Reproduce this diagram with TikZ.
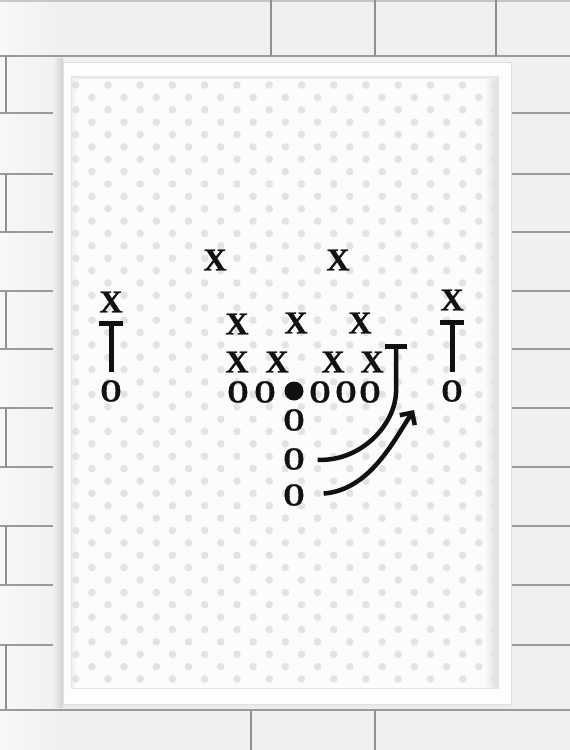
\documentclass[tikz,border=0pt]{standalone}
\usepackage{fontspec}
\newfontfamily\playfont[BoldFeatures={FakeBold=1.2}]{Liberation Serif}
\newfontfamily\ofont[BoldFeatures={FakeBold=1.2,FakeStretch=0.84}]{Liberation Serif}
\usetikzlibrary{arrows.meta}
\definecolor{wallcol}{HTML}{F0F0F0}
\definecolor{mortarcol}{HTML}{9A9E92}
\definecolor{jointcol}{HTML}{8E9288}
\definecolor{framecol}{HTML}{FDFDFD}
\definecolor{postercol}{HTML}{FCFCFC}
\definecolor{dotcol}{HTML}{E3E3E3}
\definecolor{inkcol}{HTML}{111111}
\begin{document}
\begin{tikzpicture}[x=1pt,y=-1pt,
  xmark/.style={font=\playfont\bfseries\fontsize{32}{32}\selectfont, inner sep=0pt, text=inkcol},
  omark/.style={font=\ofont\bfseries\fontsize{32}{32}\selectfont, inner sep=0pt, text=inkcol},
  ballmark/.style={circle, fill=inkcol, minimum size=19pt, inner sep=0pt},
  stemline/.style={draw=inkcol, line width=5pt},
  barline/.style={draw=inkcol, line width=5pt},
  routeline/.style={draw=inkcol, line width=4.5pt},
  mortarline/.style={draw=mortarcol, line width=2pt},
  jointline/.style={draw=jointcol, line width=1.5pt},
  dotfill/.style={fill=dotcol}]
\useasboundingbox (0,0) rectangle (570,750);
% wall
\fill[wallcol] (0,0) rectangle (570,750);
\shade[left color=white!97!black, right color=wallcol] (0,0) rectangle (63,750);
\draw[mortarline, draw opacity=0.5] (0,1) -- (570,1);
\draw[mortarline] (0,56) -- (570,56);
\foreach \yy in {113,174,232,291,349,408,467,526,585,645} {
  \draw[mortarline] (0,\yy) -- (63,\yy);
  \draw[mortarline] (511,\yy) -- (570,\yy);
}
\draw[mortarline] (0,710) -- (570,710);
\foreach \xx in {271,375,496} \draw[jointline] (\xx,0) -- (\xx,56);
\foreach \xx in {251,375} \draw[jointline] (\xx,710) -- (\xx,750);
\foreach \ya/\yb in {56/113,174/232,291/349,408/467,526/585,645/710}
  \draw[jointline] (6,\ya) -- (6,\yb);
% frame shadow
\shade[left color=wallcol, right color=black!18] (53,58) rectangle (63,707);
\fill[black!8] (63,704) rectangle (511,708);
% frame
\fill[framecol] (63,62) rectangle (511,704);
\draw[black!12, line width=0.6pt] (63,62) rectangle (511,704);
% poster
\fill[postercol] (71,76) rectangle (498,688);
\shade[left color=postercol, right color=black!13] (484,76) rectangle (498,688);
\shade[left color=black!6, right color=postercol] (71,76) rectangle (77,688);
\fill[black!8] (71,76) rectangle (498,78.5);
\begin{scope}
\clip (71,76) rectangle (498,688);
\foreach \k in {0,...,48} {
  \pgfmathsetmacro\yy{85+12.375*\k}
  \pgfmathsetmacro\xo{mod(\k,2)*16.125}
  \foreach \j in {0,...,13} {
    \fill[dotfill] ({75.7+\xo+32.25*\j},\yy) circle (3.8);
  }
}
\end{scope}
\draw[black!10, line width=0.6pt] (71,76) rectangle (498,688);
% defense
\node[xmark] (s1) at (215,260) {X};
\node[xmark] (s2) at (338,260) {X};
\node[xmark] (cbl) at (111,302) {X};
\node[xmark] (cbr) at (452,300) {X};
\node[xmark] (lb1) at (237,324) {X};
\node[xmark] (lb2) at (296,323) {X};
\node[xmark] (lb3) at (360,323) {X};
\node[xmark] (dl1) at (237,362) {X};
\node[xmark] (dl2) at (277,362) {X};
\node[xmark] (dl3) at (333,362) {X};
\node[xmark] (dl4) at (372,362) {X};
% offense
\node[omark] (wl) at (111,391) {O};
\node[omark] (wr) at (452,391) {O};
\node[omark] (lt) at (238,392) {O};
\node[omark] (lg) at (265,392) {O};
\node[ballmark] (cn) at (294,391) {};
\node[omark] (rg) at (320,392) {O};
\node[omark] (rt) at (346,392) {O};
\node[omark] (te) at (370,392) {O};
\node[omark] (qb) at (294,420) {O};
\node[omark] (hb) at (294,459) {O};
\node[omark] (fb) at (294,495) {O};
% blocks / routes
\coordinate (wltop) at (111,323);
\coordinate (wlbl) at (98.5,323);
\coordinate (wlbr) at (122.5,323);
\draw[stemline, shorten <=8pt] (wl.north) -- (wltop);
\draw[barline] (wlbl) -- (wlbr);
\coordinate (wrtop) at (452,322);
\coordinate (wrbl) at (440,322);
\coordinate (wrbr) at (464,322);
\draw[stemline, shorten <=8pt] (wr.north) -- (wrtop);
\draw[barline] (wrbl) -- (wrbr);
\coordinate (tetop) at (396,346);
\coordinate (tebl) at (385,346);
\coordinate (tebr) at (407,346);
\coordinate (tebend) at (396,393);
\draw[barline] (tebl) -- (tebr);
\draw[routeline, shorten >=13pt] (tetop) -- (tebend) .. controls (394,428) and (358,462) .. (hb.east);
\coordinate (tip) at (414,410);
\draw[routeline, shorten <=19pt, -{Straight Barb[length=9pt,width=18pt]}] (fb.east) .. controls (370,490) and (394,440) .. (tip);
\end{tikzpicture}
\end{document}
